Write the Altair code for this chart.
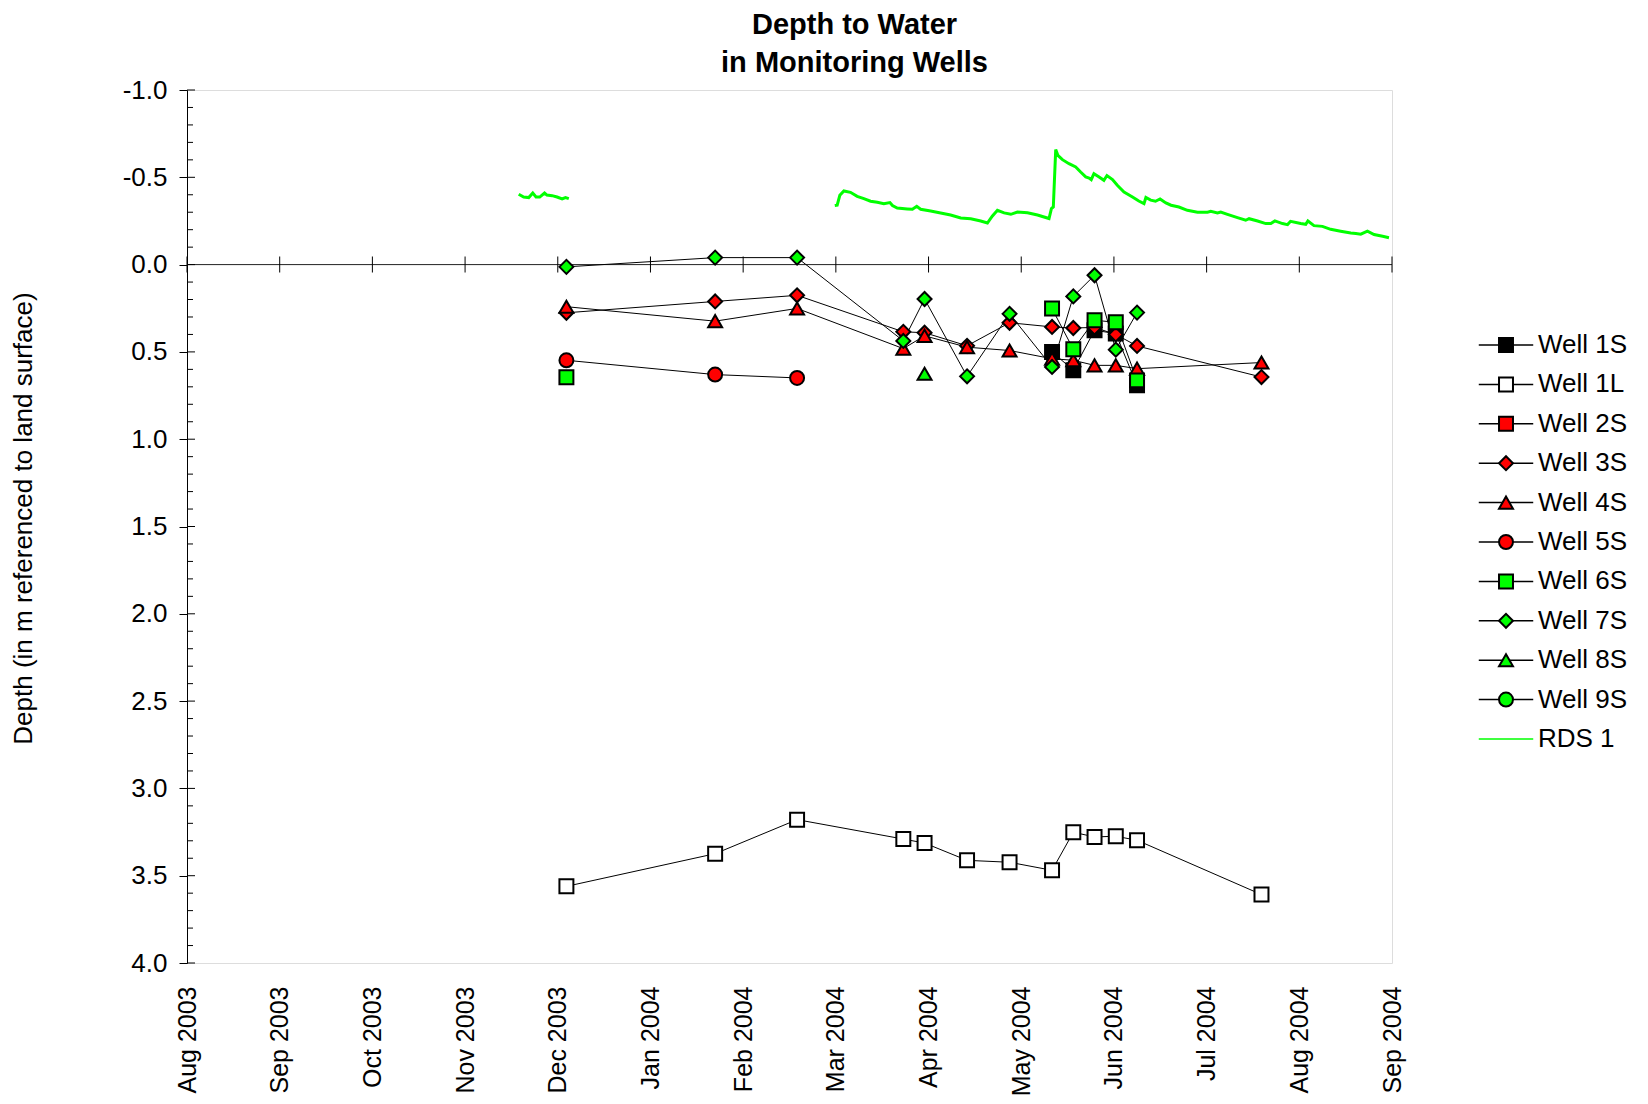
import json
import altair as alt
import pandas as pd

# ---------------- data ----------------
month_labels = ["Aug 2003", "Sep 2003", "Oct 2003", "Nov 2003", "Dec 2003", "Jan 2004",
                "Feb 2004", "Mar 2004", "Apr 2004", "May 2004", "Jun 2004", "Jul 2004",
                "Aug 2004", "Sep 2004"]

sample_dates = ["2003-12-04", "2004-01-22", "2004-02-18", "2004-03-24", "2004-03-31",
                "2004-04-14", "2004-04-28", "2004-05-12", "2004-05-19", "2004-05-26",
                "2004-06-02", "2004-06-09", "2004-07-20"]

well_names = ["Well 1S", "Well 1L", "Well 2S", "Well 3S", "Well 4S",
              "Well 5S", "Well 6S", "Well 7S", "Well 8S", "Well 9S"]

N = None
well_1S = [N, N, N, N, N, N, N, 0.500, 0.605, 0.376, 0.395, 0.691, N]
well_1L = [3.561, 3.374, 3.179, 3.290, 3.313, 3.412, 3.423, 3.469, 3.251, 3.278, 3.274, 3.297, 3.608]
well_2S = [N, N, N, N, N, N, N, N, N, N, N, N, N]
well_3S = [0.276, 0.211, 0.176, 0.385, 0.390, 0.465, 0.333, 0.357, 0.363, 0.360, 0.400, 0.466, 0.644]
well_4S = [0.241, 0.324, 0.251, 0.481, 0.408, 0.473, 0.492, 0.539, 0.548, 0.577, 0.577, 0.596, 0.561]
well_5S = [0.548, 0.630, 0.649, N, N, N, N, N, N, N, N, N, N]
well_6S = [0.645, N, N, N, N, N, N, 0.252, 0.485, 0.319, 0.330, 0.663, N]
well_7S = [0.013, -0.040, -0.040, 0.437, 0.197, 0.640, 0.282, 0.586, 0.182, 0.061, 0.487, 0.275, N]
well_8S = [N, N, N, N, 0.625, N, N, N, N, N, N, N, N]
well_9S = [N, N, N, N, N, N, N, N, N, N, N, N, N]
well_values = [well_1S, well_1L, well_2S, well_3S, well_4S,
               well_5S, well_6S, well_7S, well_8S, well_9S]

# RDS 1 logger record, first stretch (Nov-Dec 2003)
rds_a_dates = ["2003-11-18 07:00", "2003-11-19 22:00", "2003-11-21 14:00", "2003-11-22 22:00",
               "2003-11-24 00:00", "2003-11-25 05:00", "2003-11-26 19:00", "2003-11-27 14:00",
               "2003-11-29 07:00", "2003-11-30 22:00", "2003-12-02 14:00", "2003-12-03 17:00",
               "2003-12-04 19:00"]
rds_a_depth = [-0.403, -0.387, -0.384, -0.410, -0.387, -0.387, -0.410, -0.398,
               -0.395, -0.387, -0.376, -0.384, -0.378]

# RDS 1 logger record, second stretch (Mar-Aug 2004)
rds_b_dates = ["2004-03-01 10:00", "2004-03-02 05:00", "2004-03-03 02:00", "2004-03-04 10:00",
               "2004-03-06 14:00", "2004-03-08 19:00", "2004-03-11 00:00", "2004-03-13 05:00",
               "2004-03-15 10:00", "2004-03-17 14:00", "2004-03-19 14:00", "2004-03-20 10:00",
               "2004-03-22 00:00", "2004-03-25 07:00", "2004-03-27 00:00", "2004-03-28 10:00",
               "2004-03-29 17:00", "2004-04-02 00:00", "2004-04-05 07:00", "2004-04-08 14:00",
               "2004-04-11 22:00", "2004-04-15 05:00", "2004-04-18 12:00", "2004-04-20 17:00",
               "2004-04-22 07:00", "2004-04-24 00:00", "2004-04-26 05:00", "2004-04-28 10:00",
               "2004-04-30 14:00", "2004-05-03 22:00", "2004-05-07 05:00", "2004-05-11 00:00",
               "2004-05-11 19:00", "2004-05-12 10:00", "2004-05-13 05:00", "2004-05-13 22:00",
               "2004-05-15 10:00", "2004-05-17 14:00", "2004-05-19 19:00", "2004-05-21 10:00",
               "2004-05-23 02:00", "2004-05-24 05:00", "2004-05-24 22:00", "2004-05-25 19:00",
               "2004-05-27 12:00", "2004-05-29 02:00", "2004-05-30 02:00", "2004-05-31 22:00",
               "2004-06-02 12:00", "2004-06-04 17:00", "2004-06-07 12:00", "2004-06-09 14:00",
               "2004-06-11 07:00", "2004-06-11 22:00", "2004-06-13 12:00", "2004-06-15 02:00",
               "2004-06-16 14:00", "2004-06-18 12:00", "2004-06-20 05:00", "2004-06-22 19:00",
               "2004-06-25 14:00", "2004-06-28 22:00", "2004-07-02 05:00", "2004-07-03 07:00",
               "2004-07-05 12:00", "2004-07-06 14:00", "2004-07-08 19:00", "2004-07-12 02:00",
               "2004-07-14 19:00", "2004-07-15 22:00", "2004-07-18 17:00", "2004-07-21 10:00",
               "2004-07-23 02:00", "2004-07-24 10:00", "2004-07-26 22:00", "2004-07-28 14:00",
               "2004-07-29 14:00", "2004-08-01 22:00", "2004-08-03 14:00", "2004-08-04 07:00",
               "2004-08-06 07:00", "2004-08-09 02:00", "2004-08-11 19:00", "2004-08-15 02:00",
               "2004-08-18 10:00", "2004-08-20 02:00", "2004-08-21 17:00", "2004-08-23 22:00",
               "2004-08-26 02:00", "2004-08-28 22:00", "2004-08-31 00:00"]
rds_b_depth = [-0.338, -0.340, -0.397, -0.422, -0.414, -0.391, -0.378, -0.363,
               -0.357, -0.349, -0.355, -0.338, -0.324, -0.319, -0.317, -0.334,
               -0.317, -0.307, -0.296, -0.284, -0.267, -0.263, -0.250, -0.238,
               -0.277, -0.311, -0.296, -0.288, -0.301, -0.297, -0.284, -0.264,
               -0.321, -0.330, -0.659, -0.626, -0.601, -0.578, -0.559, -0.530,
               -0.502, -0.496, -0.487, -0.521, -0.502, -0.483, -0.510, -0.487,
               -0.454, -0.416, -0.387, -0.364, -0.349, -0.384, -0.369, -0.363,
               -0.376, -0.353, -0.340, -0.330, -0.311, -0.300, -0.300, -0.305,
               -0.296, -0.301, -0.288, -0.269, -0.254, -0.263, -0.250, -0.235,
               -0.235, -0.250, -0.235, -0.229, -0.248, -0.235, -0.231, -0.250,
               -0.223, -0.219, -0.202, -0.191, -0.181, -0.178, -0.174, -0.191,
               -0.172, -0.162, -0.154]

series_names = well_names + ["RDS 1"]

# ---------------- styles ----------------
marker_shapes = ["square", "square", "square", "diamond", "triangle-up",
                 "circle", "square", "diamond", "triangle-up", "circle"]
marker_fills = ["#000000", "#ffffff", "#ff0000", "#ff0000", "#ff0000",
                "#ff0000", "#00ff00", "#00ff00", "#00ff00", "#00ff00"]
line_colors = ["#000000"] * 10 + ["#00ff00"]
FONT = "Liberation Sans"
SYM = 195

# ---------------- tables ----------------
origin = pd.Timestamp("2003-08-01")
axis_days = 397.0   # Aug 1 2003 .. Sep 1 2004, 13 evenly spaced ticks


def to_m(ts):
    return (pd.Timestamp(ts) - origin).total_seconds() / 86400.0 * 13.0 / axis_days


point_rows, line_rows = [], []
for name, vals in zip(well_names, well_values):
    seg = 0
    for d, v in zip(sample_dates, vals):
        if v is None:
            seg += 1
            continue
        row = {"series": name, "seg": f"{name}-{seg}", "m": to_m(d), "depth": v}
        point_rows.append(row)
        line_rows.append(row)
for seg_id, (ds, vs) in enumerate([(rds_a_dates, rds_a_depth), (rds_b_dates, rds_b_depth)]):
    for d, v in zip(ds, vs):
        line_rows.append({"series": "RDS 1", "seg": f"RDS-{seg_id}", "m": to_m(d), "depth": v})

points_df = pd.DataFrame(point_rows)
lines_df = pd.DataFrame(line_rows)

major_ticks = pd.DataFrame({"m": 0.0, "depth": [round(-1 + 0.5 * k, 2) for k in range(11)]})
minor_ticks = pd.DataFrame({"m": 0.0, "depth": [round(-1 + 0.1 * k, 2) for k in range(51) if k % 5]})
zero_ticks = pd.DataFrame({"m": list(range(14)), "depth": 0.0})
zero_df = pd.DataFrame({"depth": [0.0]})

# ---------------- encodings ----------------
label_expr = json.dumps(month_labels) + "[datum.value]"
X = alt.X("m:Q",
          scale=alt.Scale(domain=[0, 13], nice=False, zero=False),
          axis=alt.Axis(values=list(range(14)), labelExpr=label_expr, labelAngle=-90,
                        labelFontSize=25, labelFont=FONT, labelColor="black",
                        ticks=False, domain=False, grid=False, labelPadding=23,
                        labelFlush=False, labelOverlap=False, labelBound=False, title=None))
Y = alt.Y("depth:Q",
          scale=alt.Scale(domain=[-1, 4], reverse=True, nice=False, zero=False),
          axis=alt.Axis(values=[round(-1 + 0.5 * k, 2) for k in range(11)],
                        labelExpr="(datum.value < 0 ? '-' : '') + format(abs(datum.value), '.1f')",
                        labelFontSize=26, labelFont=FONT, labelColor="black",
                        ticks=True, tickSize=8, tickColor="black", tickWidth=1,
                        domain=True, domainColor="black", domainWidth=1, grid=False,
                        labelPadding=12, labelFlush=False, labelOverlap=False,
                        title="Depth (in m referenced to land surface)",
                        titleFont=FONT, titleFontSize=26, titleFontWeight="normal",
                        titleColor="black", titleAngle=270, titleAlign="center",
                        titleBaseline="middle", titleX=-164, titleY=428))

zero_line = alt.Chart(zero_df).mark_rule(color="#222222", strokeWidth=1).encode(y=Y)

minor = alt.Chart(minor_ticks).mark_tick(orient="horizontal", size=6, thickness=1,
                                         color="black", xOffset=3, opacity=1).encode(x=X, y=Y)
major = alt.Chart(major_ticks).mark_tick(orient="horizontal", size=8, thickness=1,
                                         color="black", xOffset=4, opacity=1).encode(x=X, y=Y)
cross = alt.Chart(zero_ticks).mark_tick(orient="vertical", size=16, thickness=1,
                                        color="black", opacity=1).encode(x=X, y=Y)

LEG_X = 1306
LEG_Y = 242
ROW_PAD = 13.4
line_legend = alt.Legend(orient="none", legendX=LEG_X, legendY=LEG_Y, title=None,
                         symbolType="M-3.9,0H3.9", symbolSize=SYM, symbolStrokeWidth=1.5,
                         labelFont=FONT, labelFontSize=26, labelColor="black",
                         rowPadding=ROW_PAD, padding=0, labelOffset=19)
lines = alt.Chart(lines_df).mark_line(interpolate="linear").encode(
    x=X, y=Y,
    stroke=alt.Stroke("series:N", scale=alt.Scale(domain=series_names, range=line_colors),
                      legend=line_legend),
    strokeWidth=alt.condition("datum.series == 'RDS 1'", alt.value(3), alt.value(1)),
    detail="seg:N",
)

sym_legend = alt.Legend(orient="none", legendX=LEG_X, legendY=LEG_Y, title=None,
                        symbolSize=SYM, symbolStrokeWidth=2,
                        labelFont=FONT, labelFontSize=26, labelExpr="''",
                        rowPadding=ROW_PAD, padding=0, labelOffset=19)
points = alt.Chart(points_df).mark_point(filled=True, size=SYM, stroke="black",
                                         strokeWidth=2, opacity=1).encode(
    x=X, y=Y,
    shape=alt.Shape("series:N", scale=alt.Scale(domain=well_names, range=marker_shapes),
                    legend=sym_legend),
    fill=alt.Fill("series:N", scale=alt.Scale(domain=well_names, range=marker_fills),
                  legend=sym_legend),
)

chart = alt.layer(zero_line, minor, major, cross, lines, points).properties(
    width=1205, height=873,
    autosize=alt.AutoSizeParams(type="none"),
    padding={"left": 179, "top": 82, "right": 248, "bottom": 141},
    title=alt.TitleParams(text=["Depth to Water", "in Monitoring Wells"], font=FONT,
                          fontSize=29, fontWeight="bold", color="black", anchor="middle",
                          dx=65, dy=3, lineHeight=38, offset=2),
).configure_view(stroke="#707070", strokeWidth=1.5).configure(background="white")

chart.save("out.html", embed_options={"renderer": "svg", "actions": False})
